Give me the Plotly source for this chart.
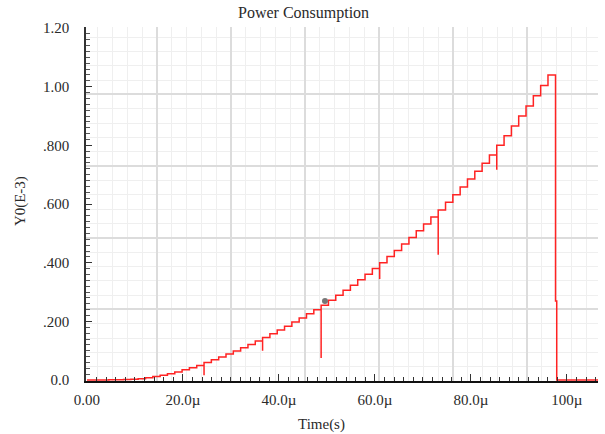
import plotly.graph_objects as go

# ---- data, Y in units of 1E-3, time in microseconds ----
step_width_us = 1.525
step_values = [
    0.000, 0.000, 0.000, 0.001, 0.001, 0.002, 0.003, 0.005,
    0.008, 0.012, 0.017, 0.022, 0.028, 0.035, 0.042, 0.050,
    0.060, 0.069, 0.079, 0.089, 0.099, 0.110, 0.121, 0.133,
    0.145, 0.158, 0.171, 0.184, 0.198, 0.212, 0.226, 0.240,
    0.255, 0.272, 0.289, 0.306, 0.323, 0.342, 0.361, 0.380,
    0.400, 0.421, 0.442, 0.464, 0.486, 0.509, 0.532, 0.556,
    0.580, 0.606, 0.632, 0.658, 0.685, 0.712, 0.739, 0.767,
    0.800, 0.833, 0.866, 0.900, 0.934, 0.969, 1.004, 1.040,
]
spike_steps = [16, 24, 32, 40, 48, 56]
spike_lows = [0.017, 0.100, 0.075, 0.345, 0.427, 0.717]
drop_times = [97.6, 97.65, 97.9, 106.5]
drop_values = [1.040, 0.270, 0.000, 0.000]
cursor_time = [49.6]
cursor_value = [0.27]

x_tick_vals = [0, 20, 40, 60, 80, 100]
x_tick_text = ["0.00", "20.0\u00b5", "40.0\u00b5", "60.0\u00b5", "80.0\u00b5", "100\u00b5"]
y_tick_vals = [0.0, 0.2, 0.4, 0.6, 0.8, 1.0, 1.2]
y_tick_text = ["0.0", ".200", ".400", ".600", ".800", "1.00", "1.20"]

# ---- build trace ----
spike_map = dict(zip(spike_steps, spike_lows))
xs, ys = [], []
for k, v in enumerate(step_values):
    t = k * step_width_us
    if k in spike_map:
        xs.append(t)
        ys.append(spike_map[k])
    xs.append(t)
    ys.append(v)
xs += drop_times
ys += drop_values

FONT = "Liberation Serif"
TXT = "#2a2a2a"

fig = go.Figure()
# invisible trace to create the (offset) grid subplot
fig.add_trace(go.Scatter(x=[None], y=[None], xaxis="x2", yaxis="y2",
                         showlegend=False, hoverinfo="skip"))
fig.add_trace(go.Scatter(x=xs, y=ys, mode="lines", line=dict(color="rgb(255,35,35)", width=1.5, shape="hv"),
                         showlegend=False))
fig.add_trace(go.Scatter(x=cursor_time, y=cursor_value, mode="markers",
                         marker=dict(color="#777777", size=6, symbol="circle"), showlegend=False))

fig.update_layout(
    width=605, height=434,
    margin=dict(l=86, r=7, t=27, b=53, autoexpand=False),
    paper_bgcolor="white", plot_bgcolor="white",
    font=dict(family=FONT, size=15, color=TXT),
    xaxis=dict(range=[-0.2, 106.5], showgrid=False, zeroline=False, automargin=False,
               showline=True, linecolor="#111111", linewidth=2,
               tickmode="array", tickvals=x_tick_vals, ticktext=x_tick_text,
               ticks="inside", ticklen=7, tickcolor="#333333", tickwidth=1,
               ticklabelstandoff=4, tickfont=dict(family=FONT, size=15, color=TXT),
               minor=dict(dtick=2, ticks="inside", ticklen=4, tickcolor="#333333", showgrid=False)),
    yaxis=dict(range=[-0.003, 1.2034], showgrid=False, zeroline=False, automargin=False,
               showline=True, linecolor="#333333", linewidth=1.5,
               tickmode="array", tickvals=y_tick_vals, ticktext=y_tick_text,
               ticks="inside", ticklen=6, tickcolor="#333333", tickwidth=1,
               ticklabelstandoff=12, tickfont=dict(family=FONT, size=15, color=TXT),
               minor=dict(dtick=0.02, ticks="inside", ticklen=4, tickcolor="#555555", showgrid=False)),
    xaxis2=dict(overlaying="x", anchor="y", range=[0.04, 6.96], dtick=1, showticklabels=False,
                automargin=False,
                showgrid=True, gridcolor="#dcdcdc", gridwidth=1.5, zeroline=False, showline=False,
                minor=dict(dtick=0.2, showgrid=True, gridcolor="#efefef", gridwidth=1)),
    yaxis2=dict(overlaying="y", anchor="x", range=[0, 4.94], dtick=1, showticklabels=False,
                automargin=False,
                showgrid=True, gridcolor="#dcdcdc", gridwidth=1.5, zeroline=False, showline=False,
                minor=dict(dtick=0.2, showgrid=True, gridcolor="#efefef", gridwidth=1)),
    annotations=[
        dict(text="Power Consumption", xref="paper", yref="paper", x=0.424, y=1.04,
             xanchor="center", yanchor="middle", showarrow=False,
             font=dict(family=FONT, size=16, color=TXT)),
        dict(text="Time(s)", xref="paper", yref="paper", x=0.459, y=-0.1215,
             xanchor="center", yanchor="middle", showarrow=False,
             font=dict(family=FONT, size=15, color=TXT)),
        dict(text="Y0(E-3)", xref="paper", yref="paper", x=-0.129, y=0.508, textangle=-90,
             xanchor="center", yanchor="middle", showarrow=False,
             font=dict(family=FONT, size=15, color=TXT)),
    ],
)

fig.write_html("out.html", config={"displayModeBar": False},
               post_script="document.body.style.margin='0px';")
